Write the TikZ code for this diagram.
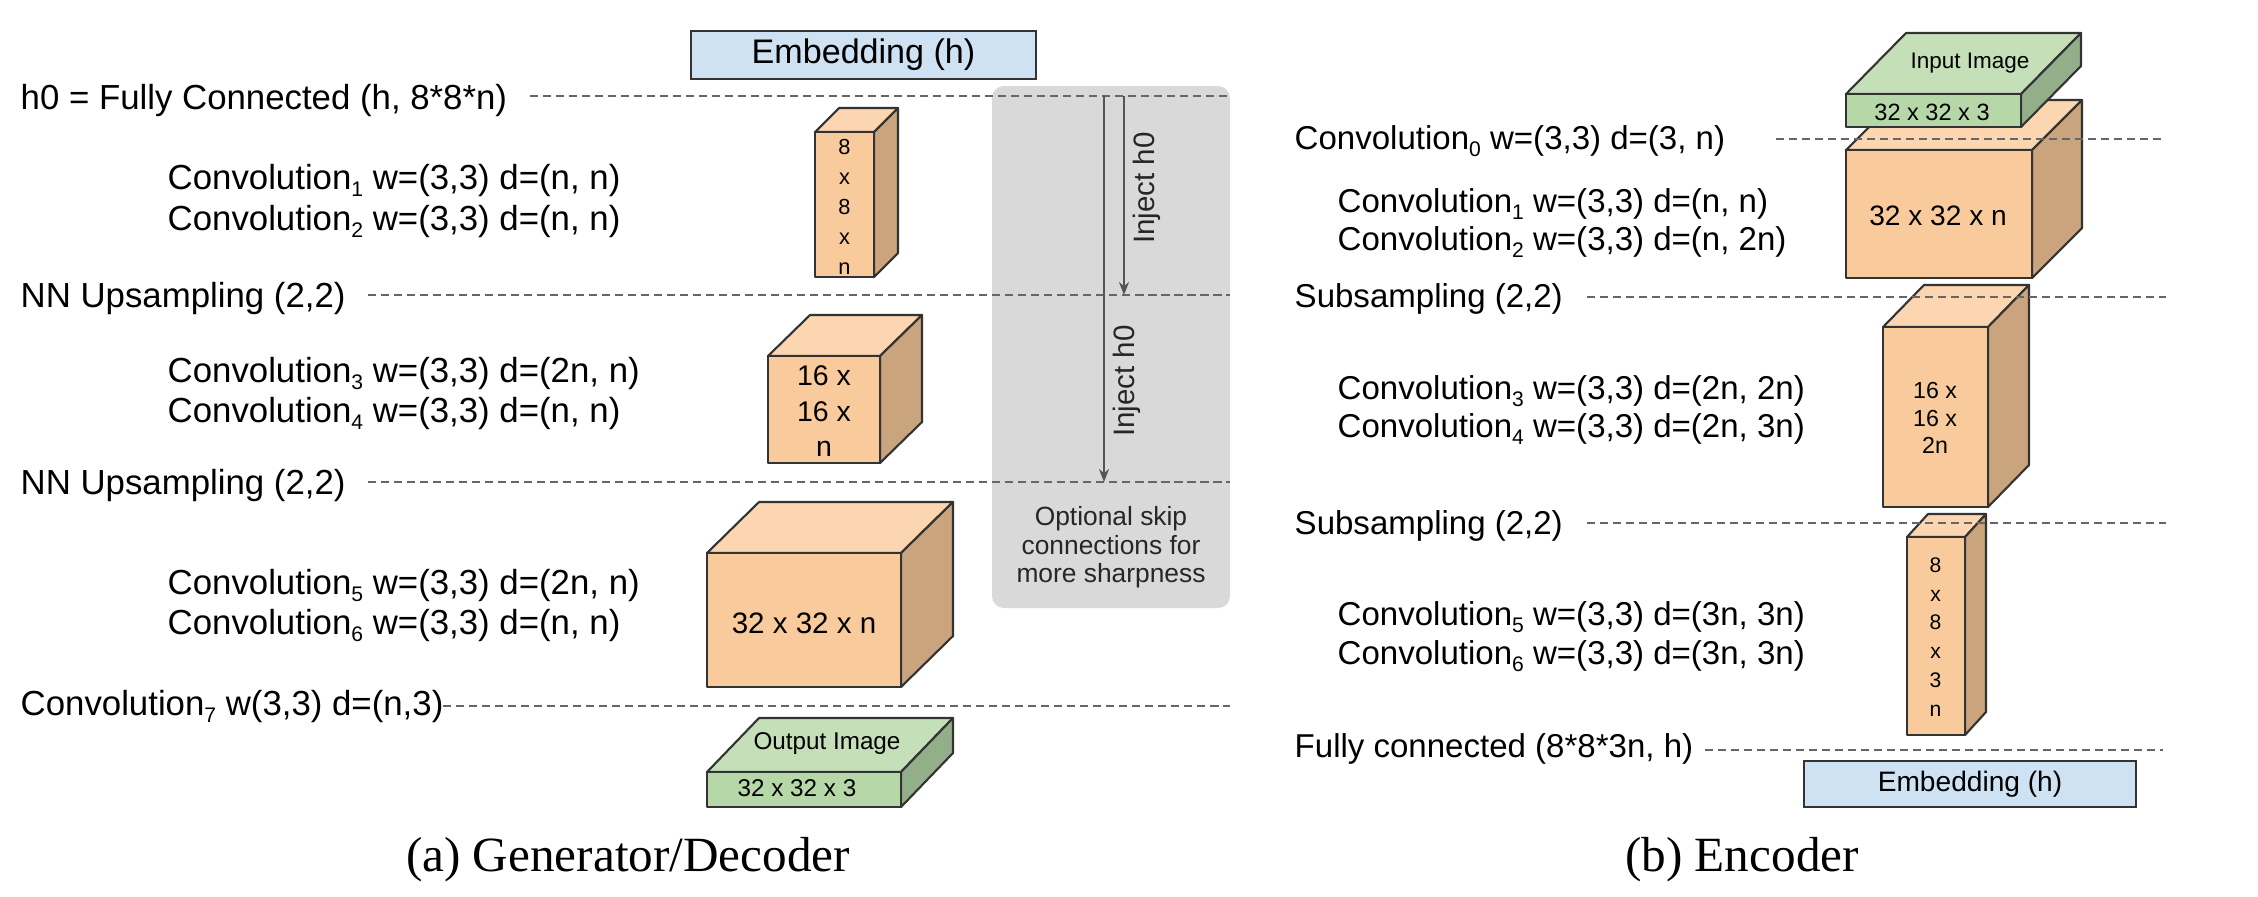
\documentclass[tikz,border=0pt]{standalone}
\usepackage{fontspec}
\setmainfont{Liberation Sans}
\newfontfamily\capfont{Liberation Serif}
\usetikzlibrary{arrows.meta}
\definecolor{embblue}{HTML}{CFE2F3}
\definecolor{orfront}{HTML}{F9CB9C}
\definecolor{ortop}{HTML}{FBD6B0}
\definecolor{orside}{HTML}{C9A47C}
\definecolor{grfront}{HTML}{B6D7A8}
\definecolor{grtop}{HTML}{C5E0B8}
\definecolor{grside}{HTML}{93AF8A}
\definecolor{skipgray}{HTML}{D9D9D9}
\definecolor{dashgray}{HTML}{666666}
\definecolor{edgecol}{HTML}{333333}
\definecolor{arrowgray}{HTML}{555555}
\newcommand{\sbs}[1]{\raisebox{-2.2pt}{\fontsize{6}{6}\selectfont #1}}
\newcommand{\cuboid}[9]{%
  \filldraw[cubeline, fill=#8] (#1,#2) -- (#1+#5,#2-#6) -- (#3+#5,#2-#6) -- (#3,#2) -- cycle;
  \filldraw[cubeline, fill=#9] (#3,#2) -- (#3+#5,#2-#6) -- (#3+#5,#4-#6) -- (#3,#4) -- cycle;
  \filldraw[cubeline, fill=#7] (#1,#2) rectangle (#3,#4);}
\begin{document}
\begin{tikzpicture}[x=0.1mm,y=-0.1mm,
  lbl/.style={anchor=base west, inner sep=0pt, font=\fontsize{9.9}{12}\selectfont},
  lblr/.style={anchor=base west, inner sep=0pt, font=\fontsize{9.4}{11}\selectfont},
  dashsep/.style={draw=dashgray, line width=0.75pt, dash pattern=on 2.35pt off 1.35pt},
  cubeline/.style={draw=edgecol, line width=0.6pt, line join=round},
  embbox/.style={draw=edgecol, line width=0.8pt, fill=embblue, inner sep=0pt},
  cubetxt/.style={inner sep=0pt, align=center, text=black},
  inject/.style={draw=arrowgray, line width=0.6pt, -{Stealth[length=1.3mm,width=1mm]}},
  injlbl/.style={inner sep=0pt, rotate=90, text=black!85, font=\fontsize{8.4}{10}\selectfont}]
\useasboundingbox (0,0) rectangle (2258,896);

% ---------------- (a) Generator / Decoder ----------------
\fill[skipgray, rounded corners=1.2mm] (992,86) rectangle (1230,608);
\node[embbox, minimum width=34.5mm, minimum height=4.8mm, font=\fontsize{9.7}{11}\selectfont] (embL) at (863.5,55) {Embedding (h)};

\cuboid{815}{132}{874}{277}{24}{24}{orfront}{ortop}{orside}
\node[cubetxt, font=\fontsize{6.2}{8.5}\selectfont] (cA) at (844.5,207) {8\\x\\8\\x\\n};
\cuboid{768}{356}{880}{463}{42}{41}{orfront}{ortop}{orside}
\node[cubetxt, font=\fontsize{8.1}{10.1}\selectfont] (cB) at (824,411.5) {16 x\\16 x\\n};
\cuboid{707}{553}{901}{687}{52}{51}{orfront}{ortop}{orside}
\node[cubetxt, font=\fontsize{8.4}{10}\selectfont] (cC) at (804,623) {32 x 32 x n};
\cuboid{707}{772}{901}{807}{52}{54}{grfront}{grtop}{grside}
\node[cubetxt, font=\fontsize{6.9}{8}\selectfont] (outT) at (827,744) {Output Image};
\node[cubetxt, font=\fontsize{6.9}{8}\selectfont] (outF) at (797,788) {32 x 32 x 3};

\draw[dashsep] (530,96) -- (1230,96);
\draw[dashsep] (368,295) -- (1230,295);
\draw[dashsep] (368,482) -- (1230,482);
\draw[dashsep] (443,706) -- (1230,706);

\coordinate (i1a) at (1124,96);
\coordinate (i1b) at (1124,295);
\coordinate (i2a) at (1104,96);
\coordinate (i2b) at (1104,482);
\draw[inject] (i1a) -- (i1b);
\draw[inject] (i2a) -- (i2b);
\node[injlbl] (inj1) at (1147,188) {Inject h0};
\node[injlbl] (inj2) at (1127,381) {Inject h0};
\node[cubetxt, text=black!85, font=\fontsize{7.5}{8.1}\selectfont] (skip) at (1111,547.5) {Optional skip\\connections for\\more sharpness};

\node[lbl] (a0) at (20,109) {h0 = Fully Connected (h, 8*8*n)};
\node[lbl] (a1) at (167,189) {Convolution\sbs{1} w=(3,3) d=(n, n)};
\node[lbl] (a2) at (167,230) {Convolution\sbs{2} w=(3,3) d=(n, n)};
\node[lbl] (a3) at (20,307) {NN Upsampling (2,2)};
\node[lbl] (a4) at (167,382) {Convolution\sbs{3} w=(3,3) d=(2n, n)};
\node[lbl] (a5) at (167,422) {Convolution\sbs{4} w=(3,3) d=(n, n)};
\node[lbl] (a6) at (20,494) {NN Upsampling (2,2)};
\node[lbl] (a7) at (167,594) {Convolution\sbs{5} w=(3,3) d=(2n, n)};
\node[lbl] (a8) at (167,634) {Convolution\sbs{6} w=(3,3) d=(n, n)};
\node[lbl] (a9) at (20,715) {Convolution\sbs{7} w(3,3) d=(n,3)};

\node[font=\capfont\fontsize{14}{16}\selectfont, inner sep=0pt] (capa) at (628,860) {(a) Generator/Decoder};

% ---------------- (b) Encoder ----------------
\cuboid{1846}{150}{2032}{278}{50}{50}{orfront}{ortop}{orside}
\node[cubetxt, font=\fontsize{8}{10}\selectfont] (rC1) at (1938,216) {32 x 32 x n};
\cuboid{1846}{94}{2021}{127}{60}{61}{grfront}{grtop}{grside}
\node[cubetxt, font=\fontsize{6.4}{8}\selectfont] (inT) at (1970,63) {Input Image};
\node[cubetxt, font=\fontsize{6.7}{8}\selectfont] (inF) at (1932,112) {32 x 32 x 3};
\cuboid{1883}{327}{1988}{507}{41}{42}{orfront}{ortop}{orside}
\node[cubetxt, font=\fontsize{6.6}{7.8}\selectfont] (rC2) at (1935,418) {16 x\\16 x\\2n};
\cuboid{1907}{537}{1965}{735}{21}{23}{orfront}{ortop}{orside}
\node[cubetxt, font=\fontsize{6}{8.2}\selectfont] (rC3) at (1935.5,637) {8\\x\\8\\x\\3\\n};
\node[embbox, minimum width=33.2mm, minimum height=4.6mm, font=\fontsize{8}{10}\selectfont] (embR) at (1970,784) {Embedding (h)};

\draw[dashsep] (1776,139) -- (2166,139);
\draw[dashsep] (1587,297) -- (2166,297);
\draw[dashsep] (1587,523) -- (2166,523);
\draw[dashsep] (1705,750) -- (2163,750);

\node[lblr] (b0) at (1294,149) {Convolution\sbs{0} w=(3,3) d=(3, n)};
\node[lblr] (b1) at (1337,212) {Convolution\sbs{1} w=(3,3) d=(n, n)};
\node[lblr] (b2) at (1337,250) {Convolution\sbs{2} w=(3,3) d=(n, 2n)};
\node[lblr] (b3) at (1294,307) {Subsampling (2,2)};
\node[lblr] (b4) at (1337,399) {Convolution\sbs{3} w=(3,3) d=(2n, 2n)};
\node[lblr] (b5) at (1337,437) {Convolution\sbs{4} w=(3,3) d=(2n, 3n)};
\node[lblr] (b6) at (1294,534) {Subsampling (2,2)};
\node[lblr] (b7) at (1337,625) {Convolution\sbs{5} w=(3,3) d=(3n, 3n)};
\node[lblr] (b8) at (1337,664) {Convolution\sbs{6} w=(3,3) d=(3n, 3n)};
\node[lblr] (b9) at (1294,757) {Fully connected (8*8*3n, h)};

\node[font=\capfont\fontsize{14}{16}\selectfont, inner sep=0pt] (capb) at (1742,860) {(b) Encoder};
\end{tikzpicture}
\end{document}
